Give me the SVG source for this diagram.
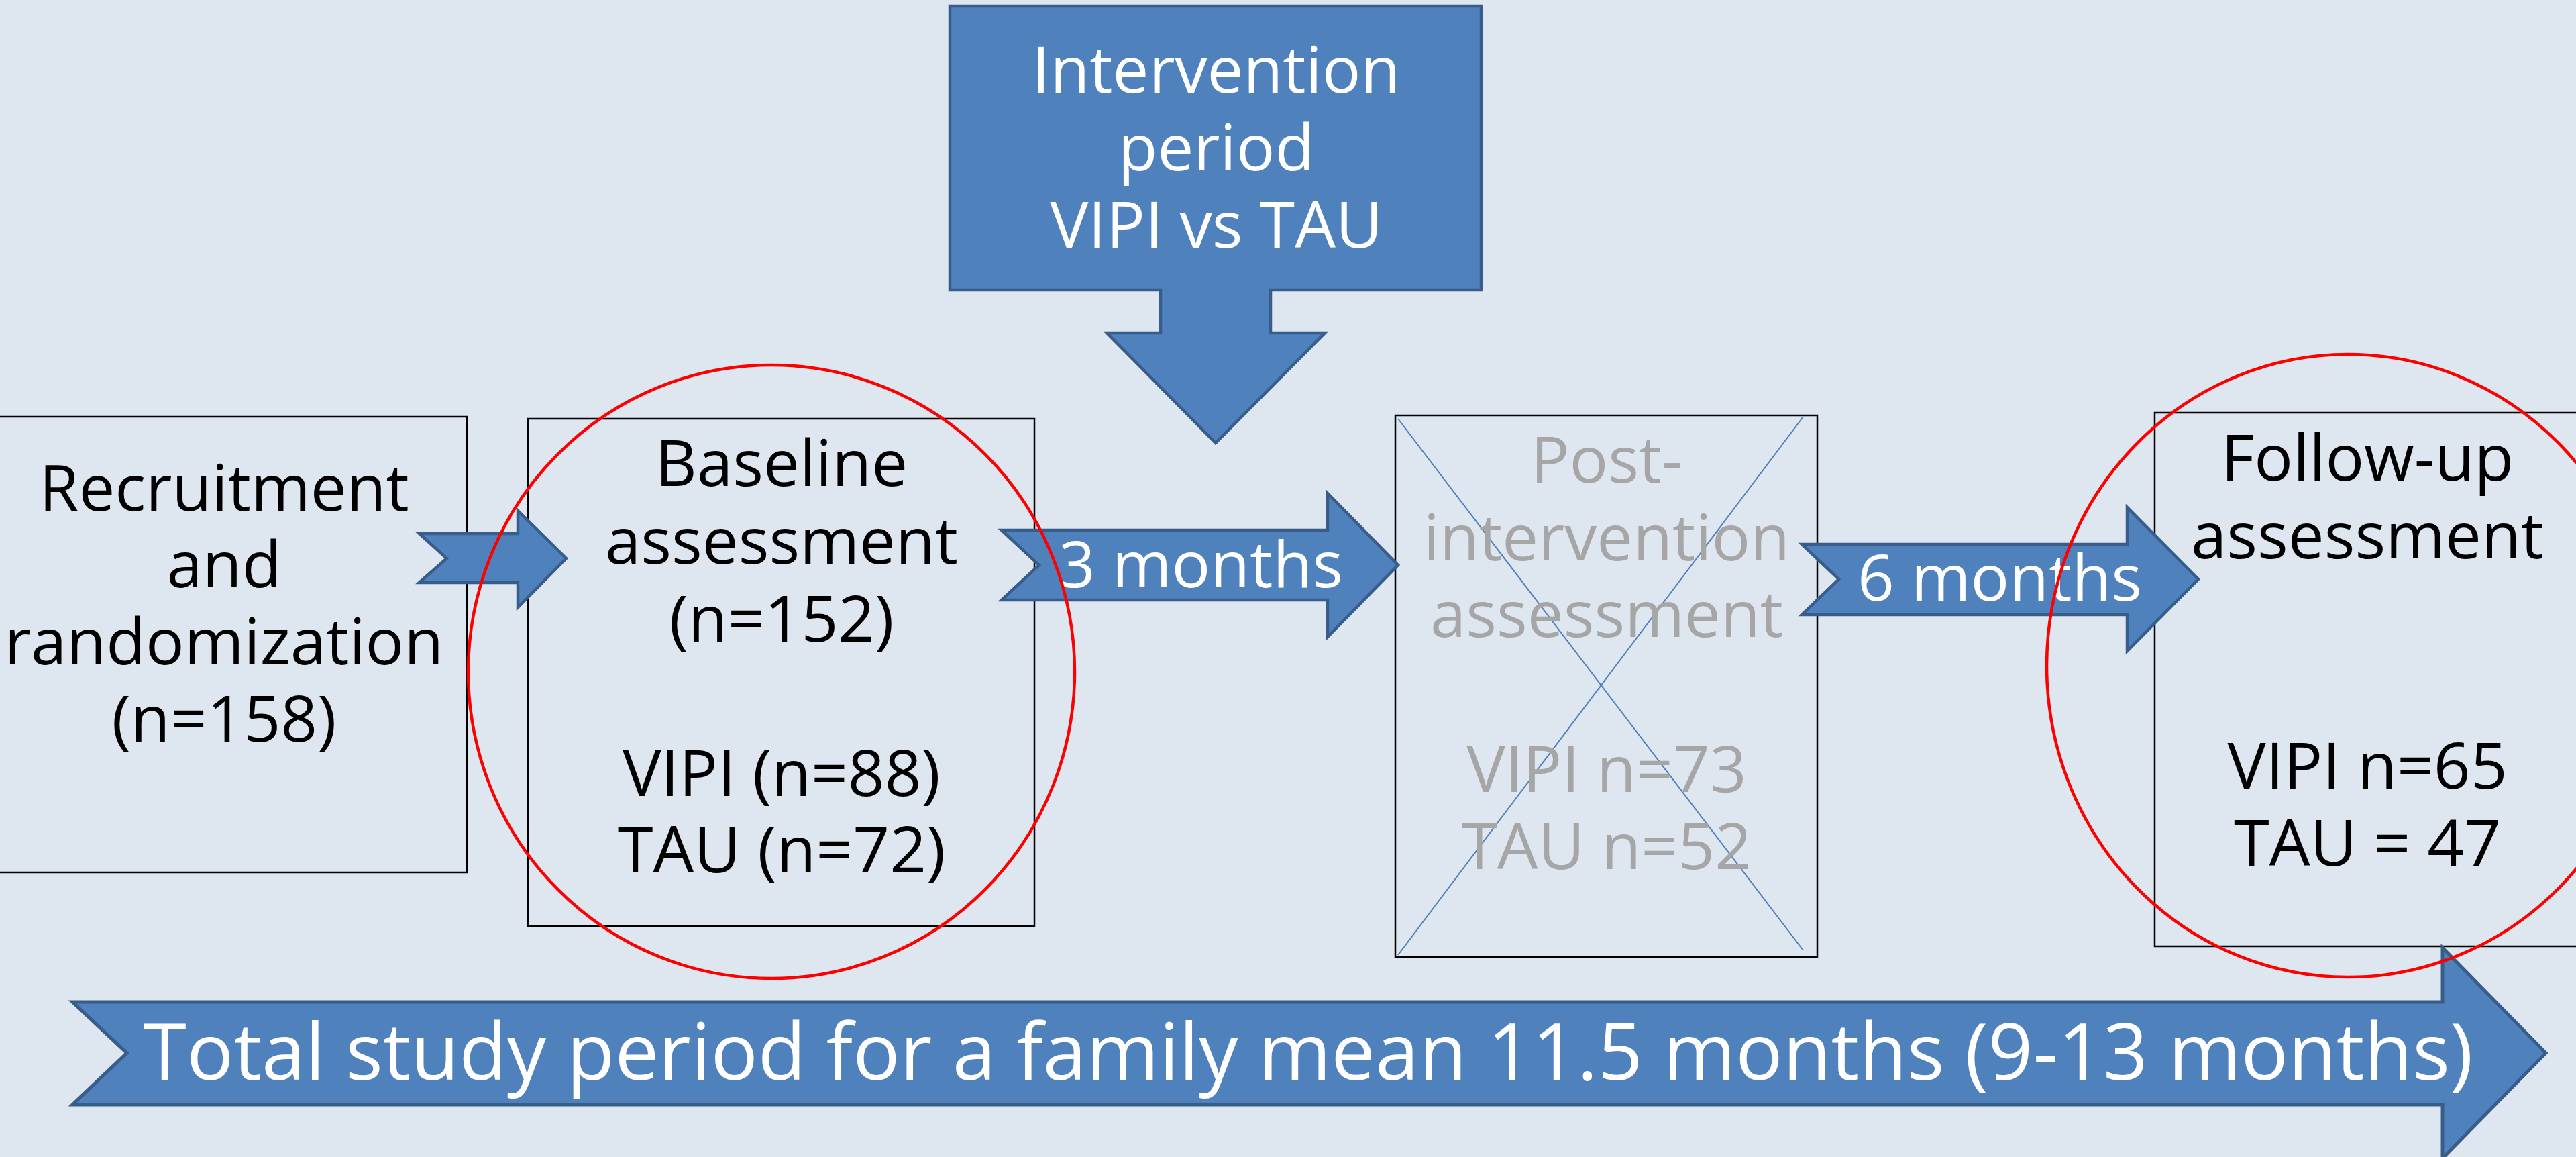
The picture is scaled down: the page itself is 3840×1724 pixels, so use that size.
<svg xmlns="http://www.w3.org/2000/svg" width="3840" height="1724" viewBox="0 0 3840 1724">
  <style>
    .box { fill: none; stroke: #000000; stroke-width: 2.5; }
    .arrow { fill: #4f81bd; stroke: #385d8a; stroke-width: 4.5; stroke-linejoin: miter; }
    .ring { fill: none; stroke: #ff0000; stroke-width: 4.5; }
    .cross { stroke: #4f81bd; stroke-width: 2; }
    text { font-family: "Open Sans", "Noto Sans", "Liberation Sans", sans-serif; text-anchor: middle; }
    .dark { fill: #000000; font-size: 96px; }
    .grey { fill: #a6a6a6; font-size: 96px; }
    .white { fill: #ffffff; font-size: 96px; }
    .big { fill: #ffffff; font-size: 117px; }
  </style>
  <rect x="0" y="0" width="3840" height="1724" fill="#dee6ef"/>

  <g id="recruitment">
    <rect class="box" x="-20" y="621" width="716" height="679"/>
    <text class="dark" x="334" y="761">Recruitment</text>
    <text class="dark" x="334" y="875">and</text>
    <text class="dark" x="334" y="990">randomization</text>
    <text class="dark" x="334" y="1105">(n=158)</text>
  </g>

  <g id="baseline">
    <rect class="box" x="787" y="624" width="755" height="756"/>
    <text class="dark" x="1165" y="724">Baseline</text>
    <text class="dark" x="1165" y="840">assessment</text>
    <text class="dark" x="1165" y="956">(n=152)</text>
    <text class="dark" x="1165" y="1186">VIPI (n=88)</text>
    <text class="dark" x="1165" y="1300">TAU (n=72)</text>
  </g>

  <g id="post-intervention">
    <rect class="box" x="2080" y="619" width="629" height="807"/>
    <line class="cross" x1="2084" y1="624" x2="2688" y2="1416"/>
    <line class="cross" x1="2688" y1="621" x2="2084" y2="1423"/>
    <text class="grey" x="2395" y="719">Post-</text>
    <text class="grey" x="2395" y="835">intervention</text>
    <text class="grey" x="2395" y="949">assessment</text>
    <text class="grey" x="2395" y="1180">VIPI n=73</text>
    <text class="grey" x="2395" y="1295">TAU n=52</text>
  </g>

  <g id="follow-up">
    <rect class="box" x="3212" y="615" width="640" height="795"/>
    <text class="dark" x="3529" y="716">Follow-up</text>
    <text class="dark" x="3529" y="832">assessment</text>
    <text class="dark" x="3529" y="1175">VIPI n=65</text>
    <text class="dark" x="3529" y="1290">TAU = 47</text>
  </g>

  <g id="intervention">
    <polygon class="arrow" points="1416,9 2208,9 2208,432 1894,432 1894,496 1975,496 1812,660 1650,496 1730,496 1730,432 1416,432"/>
    <text class="white" x="1813" y="138">Intervention</text>
    <text class="white" x="1813" y="254">period</text>
    <text class="white" x="1813" y="369">VIPI vs TAU</text>
  </g>

  <g id="connectors">
    <polygon class="arrow" points="625,795 772,795 772,761 844,832 772,905 772,868 625,868 666,832"/>
    <g id="arrow-3-months">
      <polygon class="arrow" points="1493,790 1979,790 1979,735 2084,842 1979,949 1979,894 1493,894 1549,842"/>
      <text class="white" x="1790" y="875">3 months</text>
    </g>
    <g id="arrow-6-months">
      <polygon class="arrow" points="2686,811 3171,811 3171,756 3277,863 3171,970 3171,916 2686,916 2741,863"/>
      <text class="white" x="2981" y="895">6 months</text>
    </g>
  </g>

  <g id="total-period">
    <polygon class="arrow" style="stroke-width:5" points="108,1493 3641,1493 3641,1412 3795,1569 3641,1726 3641,1646 108,1646 189,1569"/>
    <text class="big" x="1950" y="1609">Total study period for a family mean 11.5 months (9-13 months)</text>
  </g>

  <g id="highlights">
    <ellipse class="ring" cx="1150" cy="1001" rx="452" ry="457"/>
    <ellipse class="ring" cx="3500" cy="992" rx="449" ry="464"/>
  </g>
</svg>
